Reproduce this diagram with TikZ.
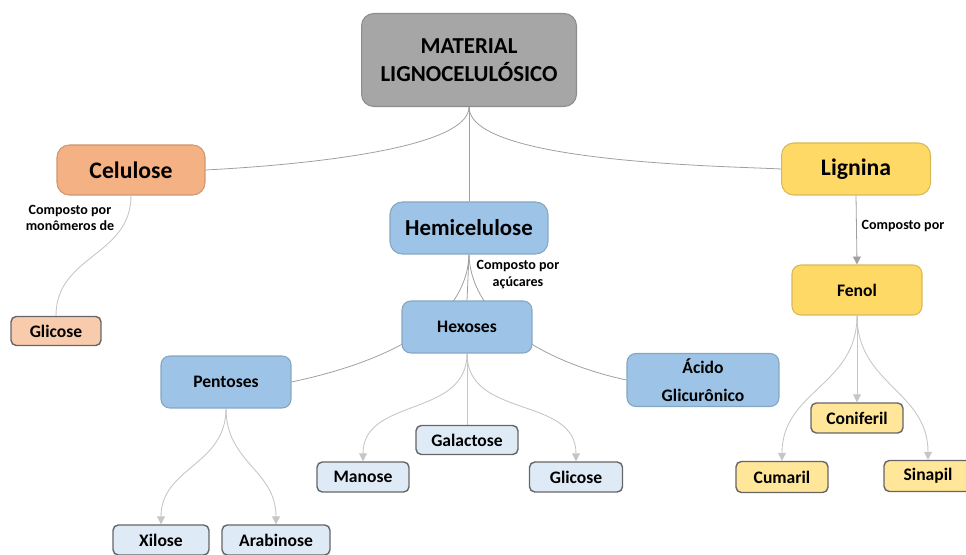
\documentclass[tikz,border=0pt]{standalone}
\usepackage{fontspec}
\setmainfont{Carlito}
\usetikzlibrary{arrows.meta,backgrounds}

\definecolor{cinza}{HTML}{A6A6A6}
\definecolor{laranja}{HTML}{F4B183}
\definecolor{laranjaclaro}{HTML}{F8CBAD}
\definecolor{azul}{HTML}{9DC3E6}
\definecolor{azulclaro}{HTML}{DEEBF7}
\definecolor{amarelo}{HTML}{FFD966}
\definecolor{amareloclaro}{HTML}{FFE699}

\tikzset{
	principal/.style={rounded corners=7pt, draw=#1!85!black, line width=0.6pt, fill=#1, align=center, inner sep=0pt, font=\bfseries\fontsize{13}{16}\selectfont},
	secundario/.style={principal=#1, rounded corners=5pt, font=\bfseries\fontsize{10}{16}\selectfont, minimum width=2.6cm, minimum height=1.04cm},
	folha/.style={rounded corners=3pt, draw=black!60, line width=0.8pt, fill=#1, inner sep=0pt, minimum height=0.6cm, font=\bfseries\fontsize{10}{12}\selectfont},
	ligacao/.style={draw=gray!75, line width=0.45pt},
	ramo/.style={draw=gray!45, line width=0.5pt},
	seta/.style={-{Triangle[width=4.5pt,length=4.5pt]}},
	rotulo/.style={align=center, font=\bfseries\fontsize{8}{9.6}\selectfont}
}

\begin{document}
\begin{tikzpicture}[x=0.02cm,y=0.02cm]
	\useasboundingbox (0,0) rectangle (966,554);

	\node[principal=cinza, minimum width=4.3cm, minimum height=1.86cm] (mat) at (469,494) {MATERIAL\\LIGNOCELULÓSICO};
	\node[principal=laranja, font=\bfseries\fontsize{13.5}{16}\selectfont, minimum width=2.96cm, minimum height=1cm] (cel) at (131,384) {Celulose};
	\node[principal=azul, minimum width=3.16cm, minimum height=1.04cm] (hemi) at (469,326) {Hemicelulose};
	\node[principal=amarelo, font=\bfseries\fontsize{13.5}{16}\selectfont, minimum width=2.98cm, minimum height=1.04cm] (lig) at (856,385) {Lignina};

	\node[secundario=azul] (hex) at (467,227) {Hexoses};
	\node[secundario=azul] (pen) at (226,172) {Pentoses};
	\node[secundario=azul, minimum width=3.04cm, minimum height=1.06cm] (aci) at (703,174) {Ácido\\Glicurônico};
	\node[secundario=amarelo, minimum height=1cm] (fen) at (857,264) {Fenol};

	\node[folha=laranjaclaro, minimum width=1.8cm, minimum height=0.58cm] (gli1) at (56,223) {Glicose};
	\node[folha=azulclaro, minimum width=2.04cm, minimum height=0.58cm] (gal) at (467,114) {Galactose};
	\node[folha=azulclaro, minimum width=1.84cm] (man) at (363,77) {Manose};
	\node[folha=azulclaro, minimum width=1.86cm] (gli2) at (576,77) {Glicose};
	\node[folha=azulclaro, minimum width=1.92cm] (xil) at (161,14) {Xilose};
	\node[folha=azulclaro, minimum width=2.16cm] (ara) at (276,14) {Arabinose};
	\node[folha=amareloclaro, minimum width=1.84cm] (con) at (857,136) {Coniferil};
	\node[folha=amareloclaro, minimum width=1.84cm, minimum height=0.62cm] (cum) at (782,77) {Cumaril};
	\node[folha=amareloclaro, minimum width=1.76cm, minimum height=0.62cm] (sin) at (928,78) {Sinapil};

	\node[rotulo] (r1) at (70,336) {Composto por\\monômeros de};
	\node[rotulo] (r2) at (518,279) {Composto por\\açúcares};
	\node[rotulo] (r3) at (903,328) {Composto por};

	\begin{scope}[on background layer]
		\draw[ligacao] (mat.south) to[out=-90,in=3,looseness=0.45] (cel.east);
		\draw[ligacao] (mat.south) to[out=-90,in=177,looseness=0.45] (lig.west);
		\draw[ligacao] (mat.south) -- (hemi.north);

		\draw[ligacao] (hemi.south) to[out=-92,in=12,looseness=0.9] (pen.east);
		\draw[ligacao] (hemi.south) -- (hex.north);
		\draw[ligacao] (hemi.south) to[out=-88,in=168,looseness=0.9] (aci.west);

		\draw[ramo] (cel.south) to[out=-90,in=90,looseness=1.1] (gli1.north);

		\draw[ramo, seta] (hex.south) to[out=-90,in=90,looseness=1.1] (man.north);
		\draw[ramo] (hex.south) -- (gal.north);
		\draw[ramo, seta] (hex.south) to[out=-90,in=90,looseness=1.1] (gli2.north);

		\foreach \alvo in {xil,ara}
			\draw[ramo, seta] (pen.south) to[out=-90,in=90,looseness=1.1] (\alvo.north);

		\draw[ligacao, seta] (lig.south) -- (fen.north);
		\draw[ramo, seta] (fen.south) -- (con.north);
		\foreach \alvo in {cum,sin}
			\draw[ramo, seta] (fen.south) to[out=-90,in=90,looseness=1.1] (\alvo.north);
	\end{scope}
\end{tikzpicture}
\end{document}
